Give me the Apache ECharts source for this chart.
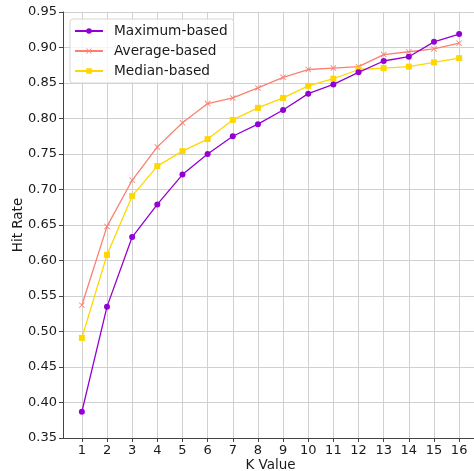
<!DOCTYPE html>
<html>
<head>
    <meta charset="utf-8">
    <title>Hit Rate</title>
    <script type="text/javascript" src="https://cdn.jsdelivr.net/npm/echarts@6/dist/echarts.min.js"></script>
</head>
<body style="margin:0;">
    <div id="chart" style="width: 474px;height:471px;"></div>
</body>
<script type="text/javascript">
    var kValues = [1, 2, 3, 4, 5, 6, 7, 8, 9, 10, 11, 12, 13, 14, 15, 16];
    var maxBased = [0.387, 0.535, 0.633, 0.679, 0.721, 0.750, 0.775, 0.792, 0.812, 0.835, 0.848, 0.865, 0.881, 0.887, 0.908, 0.919];
    var avgBased = [0.537, 0.648, 0.713, 0.760, 0.794, 0.821, 0.829, 0.843, 0.858, 0.869, 0.871, 0.873, 0.890, 0.894, 0.898, 0.906];
    var medBased = [0.491, 0.608, 0.691, 0.733, 0.754, 0.771, 0.798, 0.815, 0.829, 0.846, 0.856, 0.869, 0.871, 0.873, 0.879, 0.885];

    function pairs(arr) {
        return arr.map(function (v, i) { return [kValues[i], v]; });
    }

    var font = 'DejaVu Sans';
    var crossPath = 'path://M0,1 L1,0 L5,4 L9,0 L10,1 L6,5 L10,9 L9,10 L5,6 L1,10 L0,9 L4,5 Z';

    var chart = echarts.init(document.getElementById("chart"));
    chart.setOption({
        animation: false,
        backgroundColor: '#fff',
        textStyle: { fontFamily: font },
        legend: {
            orient: 'vertical',
            left: 70,
            top: 19,
            itemWidth: 28,
            itemHeight: 7,
            itemGap: 6,
            padding: [5, 6, 5, 4],
            borderColor: '#d6d6d6',
            borderWidth: 1,
            borderRadius: 3,
            backgroundColor: 'rgba(255,255,255,0.8)',
            textStyle: { fontFamily: font, fontSize: 13.7, color: '#1a1a1a', padding: [0, 0, 0, 6] },
            data: ['Maximum-based', 'Average-based', 'Median-based']
        },
        grid: { left: 63, top: 12, right: -4, bottom: 33, outerBoundsMode: 'none' },
        xAxis: {
            type: 'value',
            min: 0.25,
            max: 16.75,
            name: 'K Value',
            nameLocation: 'middle',
            nameGap: 20,
            nameMoveOverlap: false,
            nameTextStyle: { fontFamily: font, fontSize: 13.5, color: '#1a1a1a' },
            axisLine: { lineStyle: { color: '#444', width: 1 } },
            axisTick: { show: true, length: 4, customValues: kValues, lineStyle: { color: '#444' } },
            axisLabel: { customValues: kValues, fontFamily: font, fontSize: 13, color: '#1a1a1a', margin: 6 },
            splitLine: { show: true, lineStyle: { color: '#d0d0d0', width: 1 } }
        },
        yAxis: {
            type: 'value',
            min: 0.35,
            max: 0.95,
            interval: 0.05,
            name: 'Hit Rate',
            nameLocation: 'middle',
            nameGap: 38,
            nameMoveOverlap: false,
            nameTextStyle: { fontFamily: font, fontSize: 13.5, color: '#1a1a1a' },
            axisLine: { show: true, lineStyle: { color: '#444', width: 1 } },
            axisTick: { show: true, length: 4, lineStyle: { color: '#444' } },
            axisLabel: {
                fontFamily: font, fontSize: 13, color: '#1a1a1a', margin: 6,
                formatter: function (v) { return v.toFixed(2); }
            },
            splitLine: { show: true, lineStyle: { color: '#d0d0d0', width: 1 } }
        },
        series: [
            {
                name: 'Maximum-based',
                type: 'line',
                data: pairs(maxBased),
                symbol: 'circle',
                symbolSize: 6,
                color: '#9400D3',
                lineStyle: { width: 1.3 },
                z: 3
            },
            {
                name: 'Average-based',
                type: 'line',
                data: pairs(avgBased),
                symbol: crossPath,
                symbolSize: 6,
                color: '#FA8072',
                lineStyle: { width: 1.3 },
                z: 1
            },
            {
                name: 'Median-based',
                type: 'line',
                data: pairs(medBased),
                symbol: 'rect',
                symbolSize: 6,
                color: '#FFD700',
                lineStyle: { width: 1.3 },
                z: 2
            }
        ]
    });
</script>
</html>
